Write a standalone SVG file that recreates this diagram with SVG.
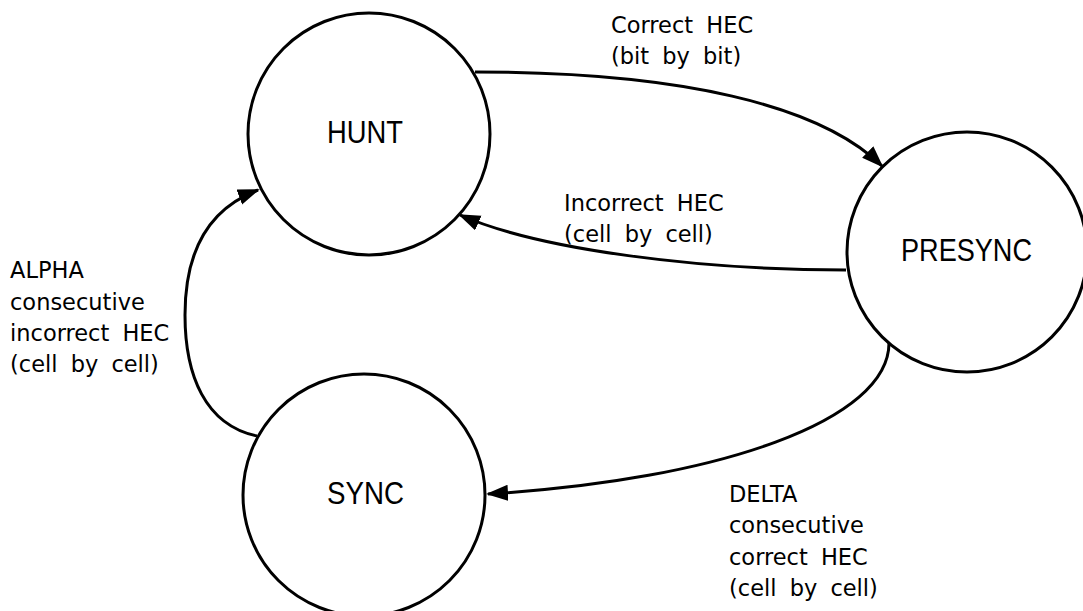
<svg xmlns="http://www.w3.org/2000/svg" width="1083" height="611" viewBox="0 0 1083 611">
<style>
.node{fill:#fff;stroke:#000;stroke-width:3}
.nl{font-family:"Liberation Sans",Arial,sans-serif;font-size:31px;fill:#000}
.lbl{font-family:"DejaVu Sans","Liberation Sans",sans-serif;font-size:22.5px;word-spacing:6px;fill:#000}
.edge{fill:none;stroke:#000;stroke-width:3}
</style>
<defs>
<marker id="arr" markerUnits="userSpaceOnUse" markerWidth="24" markerHeight="18" refX="20" refY="8" orient="auto">
<path d="M0,0 L22,8 L0,16 z" fill="#000"/>
</marker>
</defs>
<rect width="1083" height="611" fill="#fff"/>
<g id="connectors">
<path class="edge" marker-end="url(#arr)" d="M475,72 C680,72 820,105 882,166"/>
<path class="edge" marker-end="url(#arr)" d="M846,270 C700,270 540,250 460,215"/>
<path class="edge" marker-end="url(#arr)" d="M257,436 C205,425 185,375 185,315 C185,250 210,208 258,190"/>
<path class="edge" marker-end="url(#arr)" d="M889,343 C889,420 720,480 488,494"/>
</g>
<g id="hunt">
<circle class="node" cx="369" cy="134" r="121"/>
<text class="nl" x="327" y="143" textLength="76" lengthAdjust="spacingAndGlyphs">HUNT</text>
</g>
<g id="presync">
<circle class="node" cx="967" cy="252" r="120"/>
<text class="nl" x="901" y="261" textLength="131" lengthAdjust="spacingAndGlyphs">PRESYNC</text>
</g>
<g id="sync">
<circle class="node" cx="364" cy="495" r="121"/>
<text class="nl" x="327" y="503.5" textLength="77" lengthAdjust="spacingAndGlyphs">SYNC</text>
</g>
<g id="labels">
<text class="lbl" x="611" y="33">Correct HEC</text>
<text class="lbl" x="611" y="64">(bit by bit)</text>
<text class="lbl" x="564" y="211">Incorrect HEC</text>
<text class="lbl" x="564" y="242">(cell by cell)</text>
<text class="lbl" x="10" y="278">ALPHA</text>
<text class="lbl" x="10" y="310">consecutive</text>
<text class="lbl" x="10" y="341">incorrect HEC</text>
<text class="lbl" x="10" y="372">(cell by cell)</text>
<text class="lbl" x="729" y="502">DELTA</text>
<text class="lbl" x="729" y="533">consecutive</text>
<text class="lbl" x="729" y="565">correct HEC</text>
<text class="lbl" x="729" y="596">(cell by cell)</text>
</g>
</svg>
